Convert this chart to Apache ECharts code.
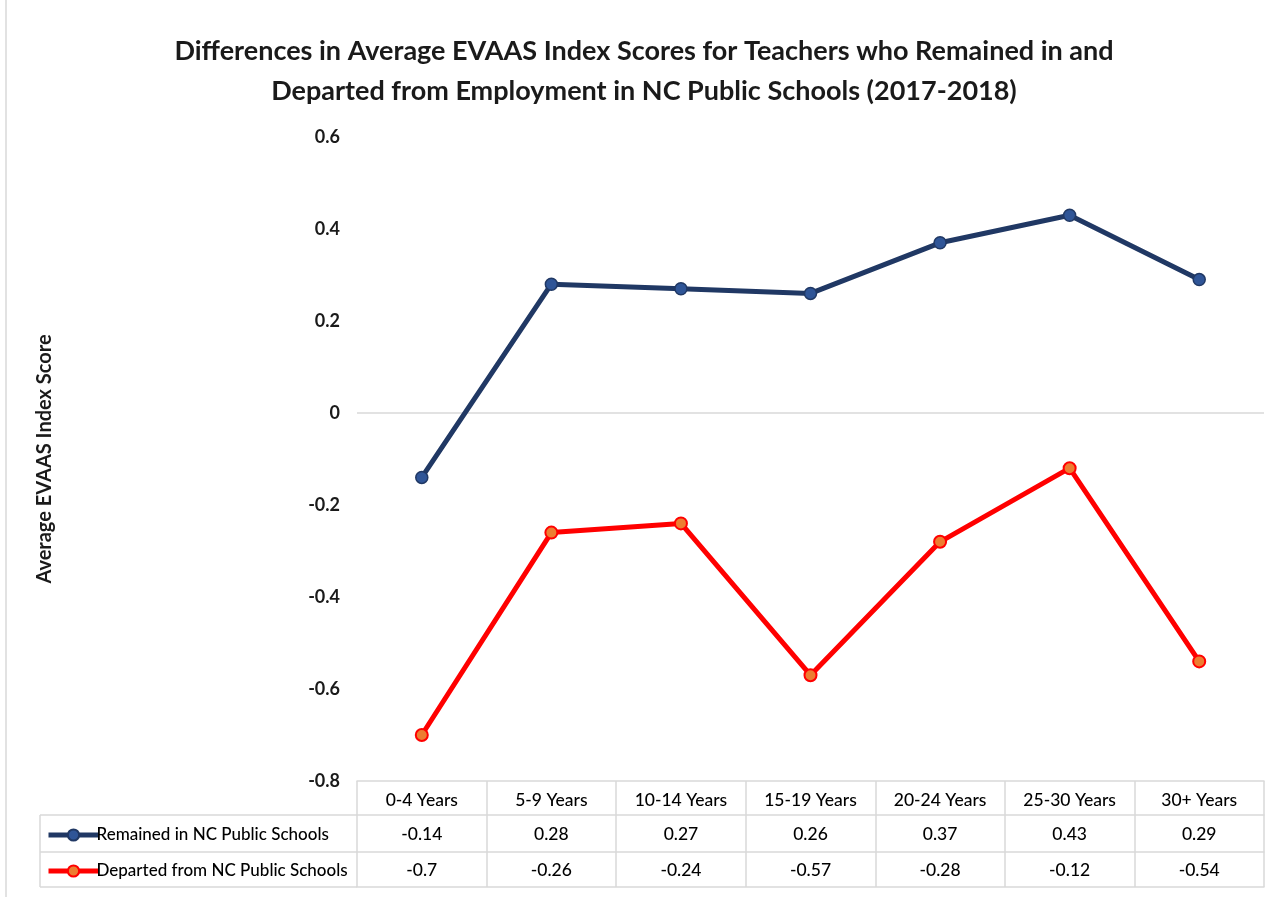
<!DOCTYPE html>
<html>
<head>
<meta charset="utf-8">
<script src="https://cdn.jsdelivr.net/npm/echarts@6/dist/echarts.min.js"></script>
<style>
html,body{margin:0;padding:0;background:#fff;}
#main{width:1288px;height:897px;}
</style>
</head>
<body>
<div id="main"></div>
<script>
var categories = ['0-4 Years', '5-9 Years', '10-14 Years', '15-19 Years', '20-24 Years', '25-30 Years', '30+ Years'];
var remained = [-0.14, 0.28, 0.27, 0.26, 0.37, 0.43, 0.29];
var departed = [-0.7, -0.26, -0.24, -0.57, -0.28, -0.12, -0.54];
var seriesNames = ['Remained in NC Public Schools', 'Departed from NC Public Schools'];
var yTicks = { min: -0.8, max: 0.6, interval: 0.2 };

var FONT = 'Lato, "Liberation Sans", sans-serif';
var GRID_LEFT = 357, GRID_RIGHT = 24, GRID_TOP = 137, GRID_BOTTOM = 116;
var BORDER = '#d9d9d9';

var chart = echarts.init(document.getElementById('main'), null, { renderer: 'canvas' });

var splitColors = [];
for (var v = yTicks.min; v <= yTicks.max + 1e-9; v += yTicks.interval) {
  splitColors.push(Math.abs(v) < 1e-9 ? BORDER : 'rgba(0,0,0,0)');
}

function lineAxis(offset) {
  return {
    type: 'category', data: categories, position: 'bottom', offset: offset,
    axisLine: { show: true, onZero: false, lineStyle: { color: BORDER, width: 1.5 } },
    axisTick: { show: false }, axisLabel: { show: false }, splitLine: { show: false }
  };
}

var option = {
  backgroundColor: '#fff',
  animation: false,
  textStyle: { fontFamily: FONT },
  title: {
    text: 'Differences in Average EVAAS Index Scores for Teachers who Remained in and\nDeparted from Employment in NC Public Schools (2017-2018)',
    left: 'center', top: 26,
    textStyle: { fontFamily: FONT, fontSize: 27, fontWeight: 'bold', color: '#1a1a1a', lineHeight: 40 }
  },
  legend: {
    orient: 'vertical', left: 41, top: 820,
    itemWidth: 50, itemHeight: 14, itemGap: 16,
    lineStyle: { width: 5 },
    textStyle: { fontFamily: FONT, fontSize: 17, fontWeight: 500, color: '#000', lineHeight: 20, padding: [0, 0, 0, -7] },
    data: seriesNames
  },
  grid: { left: GRID_LEFT, right: GRID_RIGHT, top: GRID_TOP, bottom: GRID_BOTTOM },
  xAxis: [
    {
      type: 'category', data: categories, position: 'bottom', boundaryGap: true,
      axisLine: { show: true, onZero: false, lineStyle: { color: BORDER, width: 1.5 } },
      axisTick: { show: true, interval: 0, length: 106, lineStyle: { color: BORDER, width: 1.5 } },
      axisLabel: {
        interval: 0, margin: 0,
        formatter: function (val, idx) {
          return '{h|' + val + '}\n{r|' + remained[idx] + '}\n{d|' + departed[idx] + '}';
        },
        rich: {
          h: { fontFamily: FONT, fontSize: 17.5, fontWeight: 500, color: '#000', lineHeight: 36, padding: [3, 0, 0, 0] },
          r: { fontFamily: FONT, fontSize: 17.5, fontWeight: 500, color: '#000', lineHeight: 35 },
          d: { fontFamily: FONT, fontSize: 17.5, fontWeight: 500, color: '#000', lineHeight: 36 }
        }
      },
      splitLine: { show: false }
    },
    lineAxis(34), lineAxis(71), lineAxis(106)
  ],
  yAxis: {
    type: 'value', min: yTicks.min, max: yTicks.max, interval: yTicks.interval,
    name: 'Average EVAAS Index Score', nameLocation: 'middle', nameGap: 302, nameRotate: 90,
    nameTextStyle: { fontFamily: FONT, fontSize: 20, fontWeight: 'bold', color: '#1a1a1a' },
    axisLine: { show: false }, axisTick: { show: false },
    axisLabel: { fontFamily: FONT, fontSize: 18, fontWeight: 'bold', color: '#1a1a1a', margin: 17 },
    splitLine: { show: true, lineStyle: { color: splitColors, width: 1.5 } }
  },
  series: [
    {
      name: seriesNames[0], type: 'line', data: remained,
      symbol: 'circle', symbolSize: 12,
      lineStyle: { color: '#203864', width: 5 },
      itemStyle: { color: '#2f5597', borderColor: '#203864', borderWidth: 1.5 },
      z: 3
    },
    {
      name: seriesNames[1], type: 'line', data: departed,
      symbol: 'circle', symbolSize: 12,
      lineStyle: { color: '#ff0000', width: 5 },
      itemStyle: { color: '#ed7d31', borderColor: '#ff0000', borderWidth: 2 },
      z: 3
    }
  ],
  graphic: [
    { type: 'line', shape: { x1: 6, y1: 0, x2: 6, y2: 897 }, style: { stroke: BORDER, lineWidth: 1.5 } },
    { type: 'line', shape: { x1: 40, y1: 815, x2: GRID_LEFT, y2: 815 }, style: { stroke: BORDER, lineWidth: 1.5 } },
    { type: 'line', shape: { x1: 40, y1: 852, x2: GRID_LEFT, y2: 852 }, style: { stroke: BORDER, lineWidth: 1.5 } },
    { type: 'line', shape: { x1: 40, y1: 887, x2: GRID_LEFT, y2: 887 }, style: { stroke: BORDER, lineWidth: 1.5 } },
    { type: 'line', shape: { x1: 40, y1: 815, x2: 40, y2: 887 }, style: { stroke: BORDER, lineWidth: 1.5 } }
  ]
};
chart.setOption(option);
</script>
</body>
</html>
